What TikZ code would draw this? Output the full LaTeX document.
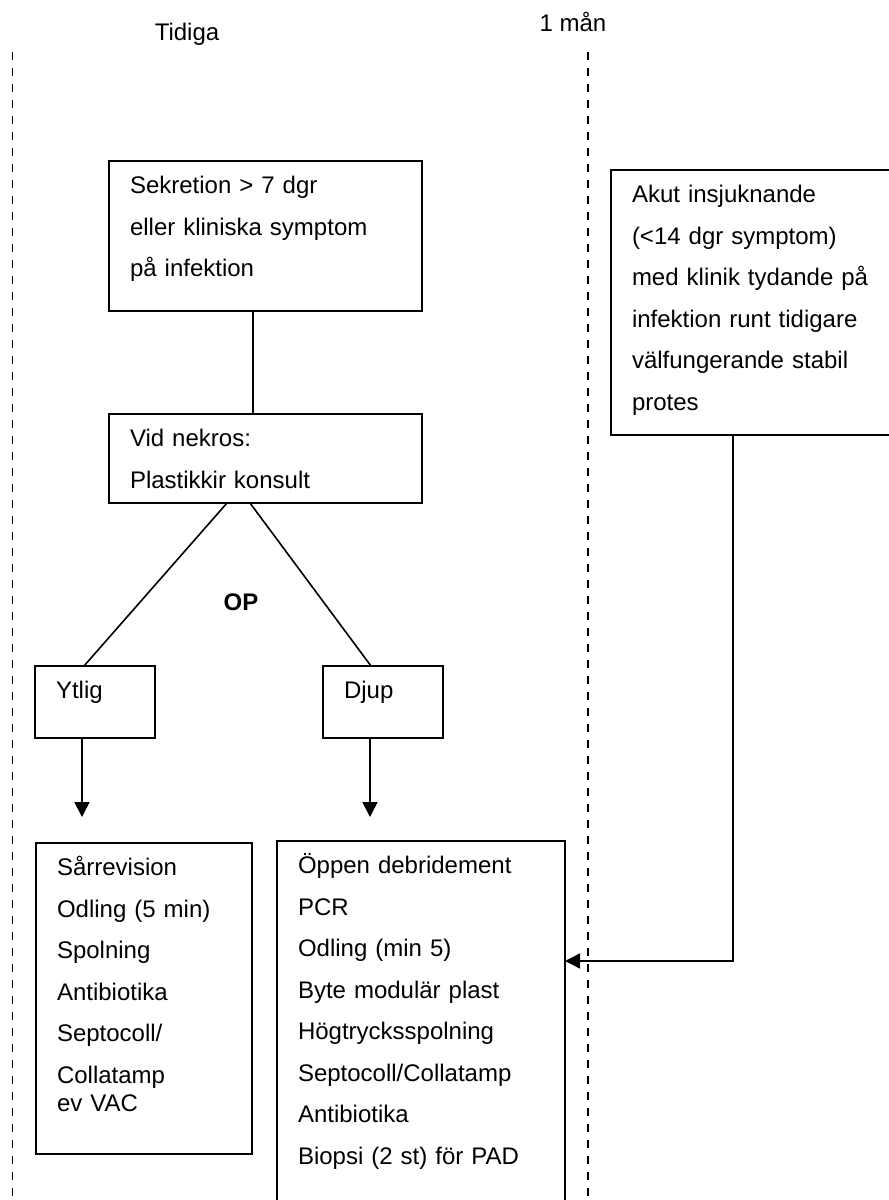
\documentclass[tikz,border=0pt]{standalone}
\usepackage{fontspec}
\setmainfont{Liberation Sans}
\usetikzlibrary{arrows.meta,positioning}

\begin{document}
\begin{tikzpicture}[
    x=1pt, y=-1pt,
    font=\fontsize{24}{41.5}\selectfont,
    box/.style={draw, line width=1.6pt, anchor=north west, align=left,
        inner xsep=21pt, inner ysep=0pt, outer sep=0pt, text height=32.6pt},
    link/.style={line width=1.6pt},
    arr/.style={line width=1.6pt, -{Triangle[width=15pt,length=15pt]}},
    timeline/.style={line width=1.6pt, dash pattern=on 8pt off 8pt}
]
    \useasboundingbox (0,0) rectangle (889,1200);

    % Time labels and dashed limits
    \node[anchor=base] (tidiga) at (187,40) {Tidiga};
    \node[anchor=base] (manad) at (573,31) {1 mån};
    \draw[timeline] (12.5,52) -- (12.5,1200);
    \draw[timeline] (588,52) -- (588,1200);

    % Early infection
    \node[box, text width=271pt, text depth=117.4pt] (sekretion) at (109,161)
        {Sekretion > 7 dgr\\eller kliniska symptom\\på infektion};
    \node[box, text width=271pt, text depth=56.4pt] (nekros) at (109,414)
        {Vid nekros:\\Plastikkir konsult};
    \node[font=\fontsize{24}{41.5}\selectfont\bfseries, anchor=base] (op) at (241,610) {OP};
    \node[box, text width=78pt, text depth=39.4pt] (ytlig) at (35,666) {Ytlig};
    \node[box, text width=78pt, text depth=39.4pt] (djup) at (323,666) {Djup};
    \node[box, text width=174pt, text depth=278.4pt] (revision) at (36,843)
        {Sårrevision\\Odling (5 min)\\Spolning\\Antibiotika\\Septocoll/\\Collatamp\\[-13.5pt]ev VAC};
    \node[box, text width=246pt, text depth=367.4pt] (debridement) at (277,841)
        {Öppen debridement\\PCR\\Odling (min 5)\\Byte modulär plast\\Högtrycksspolning\\Septocoll/Collatamp\\Antibiotika\\Biopsi (2 st) för PAD};

    % Acute onset
    \node[box, text width=258pt, text depth=232.4pt] (akut) at (611,170)
        {Akut insjuknande\\(<14 dgr symptom)\\med klinik tydande på\\infektion runt tidigare\\välfungerande stabil\\protes};

    % Connectors
    \draw[link] ([xshift=-12.5pt]sekretion.south) -- ([xshift=-12.5pt]nekros.north);
    \draw[link] ([xshift=-38.5pt]nekros.south) -- ([xshift=-11pt]ytlig.north);
    \draw[link] ([xshift=-15.5pt]nekros.south) -- ([xshift=-12pt]djup.north);
    \draw[arr] ([xshift=-13pt]ytlig.south) -- ++(0,79);
    \draw[arr] ([xshift=-13pt]djup.south) -- ++(0,79);
    \draw[arr] ([xshift=-28pt]akut.south) |- ([yshift=-120pt]debridement.north east);
\end{tikzpicture}
\end{document}
